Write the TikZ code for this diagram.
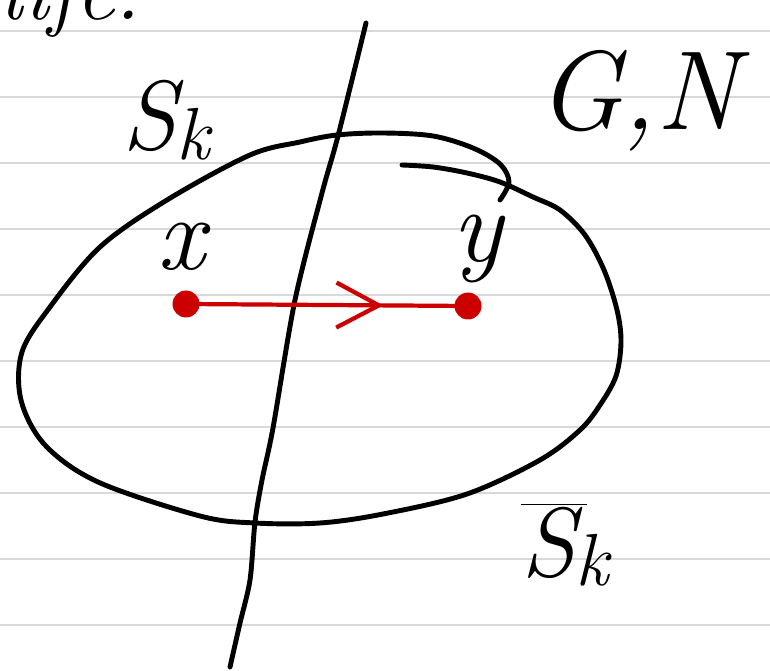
\documentclass[tikz,border=0pt]{standalone}
\usetikzlibrary{arrows.meta,decorations.markings}
\definecolor{redink}{HTML}{CC0000}
\definecolor{rulegray}{HTML}{D9D9D9}
\newcommand\lowsubk{\raisebox{-0.1em}{\fontsize{42}{44}\selectfont\itshape k}}
\begin{document}
\begin{tikzpicture}[x=0.02cm,y=-0.02cm,
  pen/.style={line width=2.8pt,line cap=round,line join=round,black},
  redpen/.style={line width=2.4pt,color=redink,line cap=round,line join=round},
  reddot/.style={circle,fill=redink,minimum size=0.54cm,inner sep=0pt},
  lbl/.style={font=\fontsize{56}{60}\selectfont\itshape,inner sep=0pt,anchor=base},
  ruleline/.style={rulegray,line width=1.4pt}]
\useasboundingbox (0,0) rectangle (770,671);
\clip (0,0) rectangle (770,671);
\fill[white] (0,0) rectangle (770,671);
\foreach \yy in {31,97,...,625} \draw[ruleline] (0,\yy) -- (770,\yy);
% top-left cut-off word
\node[anchor=base west,inner sep=0pt,font=\fontsize{50}{56}\selectfont\itshape] (life) at (0,20) {life.};
% closed curve (drawn as one stroke that overlaps itself at the top right)
\draw[pen] plot[smooth,tension=0.55] coordinates {
 (402,165) (433,167) (467,173) (500,182) (533,197) (560,210) (585,235)
 (604,270) (617,310) (621,342) (616,376) (600,405) (580,430) (540,460)
 (467,494) (383,514) (320,523) (255,523) (200,516) (98,482) (45,445)
 (21,400) (22,352) (50,307) (100,247) (167,200) (250,155) (300,142)
 (337,135) (383,133) (433,136) (473,148) (500,164) (509,182) (500,200)};
% dividing line
\draw[pen] plot[smooth,tension=0.5] coordinates {(366,23) (338,136) (322,193) (295,300) (273,428) (262,480) (255,522) (250,580) (240,623) (230,667)};
% points
\node[reddot] (px) at (186,304) {};
\node[reddot] (py) at (468,306) {};
\draw[redpen,decoration={markings,mark=at position 0.7 with {\arrow{Straight Barb[length=0.85cm,width=0.9cm,line width=2.4pt]}}},postaction={decorate}] (px.center) -- (py.center);
% labels
\node[lbl,font=\fontsize{60}{66}\selectfont\itshape] (xl) at (181,270) {x};
\node[lbl,font=\fontsize{60}{66}\selectfont\itshape] (yl) at (478,262) {y};
\node[lbl] (sk) at (166,150) {S\lowsubk};
\node[lbl,font=\fontsize{64}{70}\selectfont\itshape] (gn) at (638,130) {G,N};
\node[lbl] (sbar) at (565,576) {$\overline{\hbox{S\kern0.12em}}$\kern-0.12em\lowsubk};
\end{tikzpicture}
\end{document}
